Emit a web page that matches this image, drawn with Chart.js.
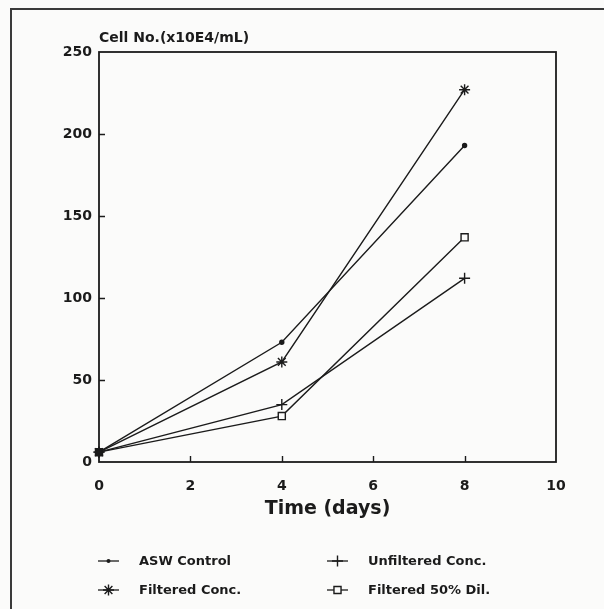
<!DOCTYPE html>
<html><head><meta charset="utf-8">
<script src="https://cdn.jsdelivr.net/npm/chart.js@4"></script>
<style>html,body{margin:0;padding:0;background:#fbfbfa;}#wrap{width:604px;height:609px;position:relative;}</style>
</head><body><div id="wrap"><canvas id="c" width="604" height="609"></canvas></div>
<script>
const days = [0, 4, 8];
const xTickValues = [0, 2, 4, 6, 8, 10];
const yTickValues = [0, 50, 100, 150, 200, 250];
const aswControl = [6, 73, 193];
const filteredConc = [6, 61, 227];
const unfilteredConc = [6, 35, 112];
const filtered50Dil = [6, 28, 137];
const seriesLabels = ['ASW Control', 'Filtered Conc.', 'Unfiltered Conc.', 'Filtered 50% Dil.'];
const xTitle = 'Time (days)';
const yTitle = 'Cell No.(x10E4/mL)';

const INK = '#1b1b1b';
const FONT = '"DejaVu Sans", "Liberation Sans", sans-serif';
const pts = arr => days.map((d, i) => ({x: d, y: arr[i]}));

function drawMarker(ctx, style, r, x, y, fill) {
  ctx.save();
  ctx.strokeStyle = INK; ctx.lineWidth = 1.4; ctx.fillStyle = fill || INK;
  ctx.beginPath();
  if (style === 'circle') { ctx.arc(x, y, r, 0, Math.PI * 2); ctx.fill(); }
  else if (style === 'cross') { ctx.moveTo(x - r, y); ctx.lineTo(x + r, y); ctx.moveTo(x, y - r); ctx.lineTo(x, y + r); ctx.stroke(); }
  else if (style === 'star') {
    ctx.moveTo(x - r, y); ctx.lineTo(x + r, y); ctx.moveTo(x, y - r); ctx.lineTo(x, y + r);
    const d = r * Math.SQRT1_2;
    ctx.moveTo(x - d, y - d); ctx.lineTo(x + d, y + d); ctx.moveTo(x - d, y + d); ctx.lineTo(x + d, y - d);
    ctx.stroke();
  } else if (style === 'rect') {
    const s = r * Math.SQRT1_2;
    ctx.rect(x - s, y - s, 2 * s, 2 * s); ctx.fill(); ctx.stroke();
  }
  ctx.restore();
}

const decor = {
  id: 'decor',
  beforeDraw(chart) {
    const ctx = chart.ctx;
    ctx.save();
    ctx.fillStyle = '#fbfbfa';
    ctx.fillRect(0, 0, chart.width, chart.height);
    ctx.strokeStyle = '#3a3a3a'; ctx.lineWidth = 2;
    ctx.beginPath();
    ctx.moveTo(11, chart.height + 5); ctx.lineTo(11, 9); ctx.lineTo(chart.width + 5, 9);
    ctx.stroke();
    ctx.restore();
  },
  beforeDatasetsDraw(chart) {
    const {ctx, chartArea: a, scales} = chart;
    ctx.save();
    ctx.strokeStyle = INK; ctx.lineWidth = 1.8;
    ctx.strokeRect(a.left, a.top, a.right - a.left, a.bottom - a.top);
    ctx.lineWidth = 1.4;
    ctx.beginPath();
    yTickValues.forEach(v => {
      if (v === 0 || v === 250) return;
      const y = Math.round(scales.y.getPixelForValue(v)) + 0.5;
      ctx.moveTo(a.left, y); ctx.lineTo(a.left + 6, y);
    });
    xTickValues.forEach(v => {
      if (v === 0 || v === 10) return;
      const x = Math.round(scales.x.getPixelForValue(v)) + 0.5;
      ctx.moveTo(x, a.bottom); ctx.lineTo(x, a.bottom - 6);
    });
    ctx.stroke();
    ctx.fillStyle = INK;
    ctx.font = 'bold 14px ' + FONT;
    ctx.textAlign = 'left'; ctx.textBaseline = 'middle';
    ctx.fillText(yTitle, a.left, 38);
    ctx.font = 'bold 19px ' + FONT;
    ctx.textAlign = 'center';
    ctx.fillText(xTitle, (a.left + a.right) / 2, 509);
    const slots = [[0, 98, 561], [2, 327, 561], [1, 98, 590], [3, 327, 590]];
    ctx.font = 'bold 13px ' + FONT;
    ctx.textAlign = 'left';
    slots.forEach(([i, x, y]) => {
      const ds = chart.data.datasets[i];
      ctx.strokeStyle = INK; ctx.lineWidth = 1.3;
      ctx.beginPath(); ctx.moveTo(x, y); ctx.lineTo(x + 21, y); ctx.stroke();
      drawMarker(ctx, ds.pointStyle, ds.pointRadius, x + 10.5, y, i === 3 ? '#fbfbfa' : INK);
      ctx.fillStyle = INK;
      ctx.fillText(ds.label, x + 41, y + 1);
    });
    ctx.restore();
  }
};

const mk = (label, data, style, radius, bg) => ({
  label, data: pts(data), pointStyle: style, pointRadius: radius, pointHoverRadius: radius,
  borderColor: INK, borderWidth: 1.4, pointBorderColor: INK, pointBorderWidth: 1.4,
  pointBackgroundColor: bg, backgroundColor: INK, tension: 0, clip: false, fill: false
});

new Chart(document.getElementById('c'), {
  type: 'line',
  data: {
    datasets: [
      mk(seriesLabels[0], aswControl, 'circle', 2, INK),
      mk(seriesLabels[1], filteredConc, 'star', 5.5, INK),
      mk(seriesLabels[2], unfilteredConc, 'cross', 5.5, INK),
      mk(seriesLabels[3], filtered50Dil, 'rect', 5, [INK, '#fbfbfa', '#fbfbfa'])
    ]
  },
  options: {
    responsive: false, animation: false, devicePixelRatio: 1,
    layout: {padding: {top: 52, right: 48, left: 0, bottom: 0}},
    plugins: {legend: {display: false}, tooltip: {enabled: false}, title: {display: false}},
    scales: {
      x: {
        type: 'linear', min: 0, max: 10,
        afterBuildTicks: s => { s.ticks = xTickValues.map(v => ({value: v})); },
        afterFit: s => { s.height = 147; },
        grid: {display: false, drawTicks: false}, border: {display: false},
        ticks: {color: INK, padding: 16, font: {family: FONT, weight: 'bold', size: 14}}
      },
      y: {
        type: 'linear', min: 0, max: 250,
        afterBuildTicks: s => { s.ticks = yTickValues.map(v => ({value: v})); },
        afterFit: s => { s.width = 99; },
        grid: {display: false, drawTicks: false}, border: {display: false},
        ticks: {color: INK, padding: 7, font: {family: FONT, weight: 'bold', size: 14}}
      }
    }
  },
  plugins: [decor]
});
</script></body></html>
